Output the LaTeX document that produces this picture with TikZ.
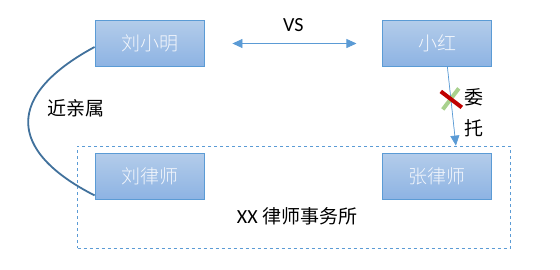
\documentclass[tikz,border=0pt]{standalone}
\usepackage{fontspec}
\setmainfont{Carlito}
\newfontfamily\cjk{Noto Sans CJK SC}
\newfontfamily\cjklight{Noto Sans CJK SC Light}
\usetikzlibrary{arrows.meta, positioning, calc, fit}
\definecolor{boxTop}{HTML}{B3CCEA}
\definecolor{boxBottom}{HTML}{8DB3E3}
\definecolor{boxBorder}{HTML}{5B9BD5}
\definecolor{linkBlue}{HTML}{5B9BD5}
\definecolor{kinBlue}{HTML}{41719C}
\definecolor{crossRed}{HTML}{C00000}
\definecolor{crossGreen}{HTML}{A9D18E}

\begin{document}
\begin{tikzpicture}[
  x=1pt, y=1pt,
  every node/.style={font=\fontsize{19}{22}\selectfont\cjk},
  person/.style={draw=boxBorder, line width=0.9pt, top color=boxTop, bottom color=boxBottom,
                 minimum height=46pt, minimum width=109pt, inner sep=0pt, text=white!85!boxTop,
                 font=\fontsize{19}{22}\selectfont\cjklight},
  firm/.style={draw=linkBlue, line width=0.7pt, dashed, inner sep=0pt},
  arrow/.style={-{Triangle[length=10pt, width=9pt]}, line width=0.7pt, draw=linkBlue, fill=linkBlue},
  biarrow/.style={{Triangle[length=10pt, width=9pt]}-{Triangle[length=10pt, width=9pt]},
                  line width=0.7pt, draw=linkBlue, fill=linkBlue},
  kin/.style={draw=kinBlue, line width=1.8pt},
  cross/.style={line width=4pt},
  label/.style={text=black},
  node distance=86pt and 178pt
]
\useasboundingbox (0,0) rectangle (560,-269);
\node[person] (liu) at (149.5,-43.5) {刘小明};
\node[person, right=of liu] (hong) {小红};
\node[person, below=of liu] (lawyerLiu) {刘律师};
\node[person, below=of hong] (lawyerZhang) {张律师};

\coordinate (firmNW) at ($(lawyerLiu.north west)+(-17pt,7pt)$);
\coordinate (firmSE) at ($(lawyerZhang.south east)+(18pt,-48pt)$);
\node[firm, fit=(firmNW)(firmSE)] (firm) {};
\node[label] (firmName) at (297,-216) {{\fontsize{20}{22}\selectfont\rmfamily XX} 律师事务所};

\draw[biarrow, shorten <=28pt, shorten >=26pt] (liu) -- node[label, above=8pt, font=\fontsize{20}{22}\selectfont\rmfamily] (vs) {VS} (hong);

\draw[arrow] ([xshift=10pt]hong.south) -- coordinate[pos=0.4] (veto) ([xshift=18.5pt]hong.south |- firm.north);
\draw[cross, crossGreen] ($(veto)+(-8pt,-11pt)$) -- ($(veto)+(8pt,10pt)$);
\draw[cross, crossRed] ($(veto)+(-10pt,7pt)$) -- ($(veto)+(11pt,-9pt)$);
\node[label, align=center, font=\fontsize{19}{31}\selectfont\cjk, right=10pt of veto, yshift=-14pt] (entrust) {委\\托};

\draw[kin] ([yshift=-3.5pt]liu.west) .. controls +(-89pt,-48pt) and +(-88pt,45pt) .. ([yshift=-19pt]lawyerLiu.west);
\node[label] (kinship) at (76,-108) {近亲属};
\end{tikzpicture}
\end{document}
